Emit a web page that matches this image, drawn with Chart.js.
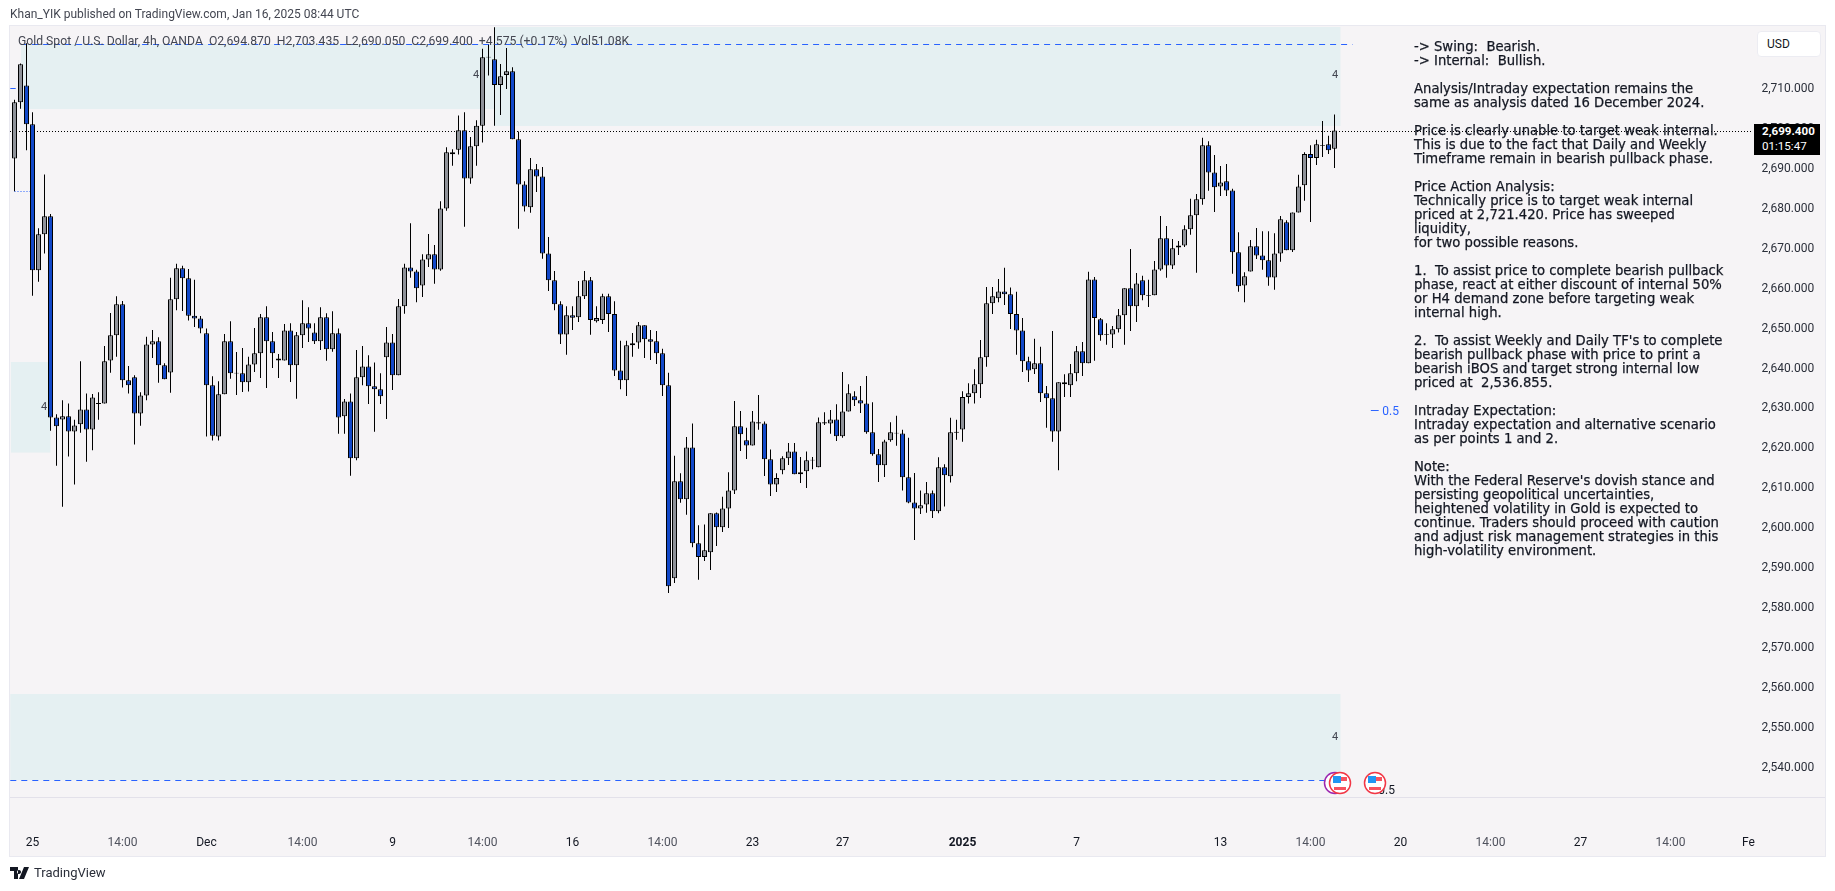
<!DOCTYPE html>
<html>
<head>
<meta charset="utf-8">
<title>Gold Spot 4h</title>
<script src="https://cdn.jsdelivr.net/npm/chart.js@4/dist/chart.umd.min.js"></script>
<style>
    html, body { margin: 0; padding: 0; background: #fff; overflow: hidden; }
    #page { position: relative; width: 1835px; height: 891px; overflow: hidden; font-family: Roboto, sans-serif; color: #131722; }
    #panel { position: absolute; left: 9px; top: 25px; width: 1815px; height: 830px; background: #f6f4f6; border: 1px solid #e9e9f0; }
    #axisLine { position: absolute; left: 10px; top: 797px; width: 1815px; height: 1px; background: #e3e1ea; }
    canvas { position: absolute; left: 0; top: 0; }
    .txt { position: absolute; white-space: pre; }
    #byline { left: 10px; top: 7px; font-size: 12px; color: #434651; }
    #legend { left: 18px; top: 34px; font-size: 12.2px; color: #434651; }
    #notes { left: 1414px; top: 40px; font-family: "DejaVu Sans", sans-serif; font-size: 13.2px; line-height: 14px; color: #131722; -webkit-text-stroke: 0.25px #131722; }
    #usd { position: absolute; left: 1757px; top: 31px; width: 62px; height: 24px; background: #fff; border: 1px solid #ececf2; border-radius: 4px; font-size: 12px; line-height: 24px; text-indent: 9px; }
    #lastBox { position: absolute; left: 1754px; top: 124px; width: 58px; height: 31px; padding-left: 8px; background: #000; color: #fff; font-size: 11.6px; line-height: 15px; }
    .small { font-size: 11px; color: #434651; }
    #footer { left: 34px; top: 865px; font-size: 13px; color: #2a2e39; }
</style>
</head>
<body>
<div id="page">
    <div id="panel"></div>
    <div id="axisLine"></div>
    <canvas id="chart" width="1835" height="891"></canvas>

    <div class="txt" id="byline">Khan_YIK published on TradingView.com, Jan 16, 2025 08:44 UTC</div>
    <div class="txt" id="legend">Gold Spot / U.S. Dollar, 4h, OANDA  O2,694.870  H2,703.435  L2,690.050  C2,699.400  +4.575 (+0.17%)  Vol51.08K</div>
    <div id="usd">USD</div>
    <div id="lastBox"><b>2,699.400</b><br>01:15:47</div>
    <div class="txt" id="notes">-&gt; Swing:  Bearish.
-&gt; Internal:  Bullish.

Analysis/Intraday expectation remains the
same as analysis dated 16 December 2024.

Price is clearly unable to target weak internal.
This is due to the fact that Daily and Weekly
Timeframe remain in bearish pullback phase.

Price Action Analysis:
Technically price is to target weak internal
priced at 2,721.420. Price has sweeped
liquidity,
for two possible reasons.

1.  To assist price to complete bearish pullback
phase, react at either discount of internal 50%
or H4 demand zone before targeting weak
internal high.

2.  To assist Weekly and Daily TF's to complete
bearish pullback phase with price to print a
bearish iBOS and target strong internal low
priced at  2,536.855.

Intraday Expectation:
Intraday expectation and alternative scenario
as per points 1 and 2.

Note:
With the Federal Reserve's dovish stance and
persisting geopolitical uncertainties,
heightened volatility in Gold is expected to
continue. Traders should proceed with caution
and adjust risk management strategies in this
high-volatility environment.</div>

    <div class="txt small" style="left:473px;top:68px">4</div>
    <div class="txt small" style="left:1332px;top:68px">4</div>
    <div class="txt small" style="left:41px;top:400px">4</div>
    <div class="txt small" style="left:1332px;top:730px">4</div>
    <div class="txt" style="left:1370px;top:404px;font-size:12px;color:#2962ff">— 0.5</div>
    <div class="txt" style="left:1366px;top:783px;font-size:12px;color:#131722">— 0.5</div>

    <svg style="position:absolute;left:1320px;top:768px" width="70" height="30" viewBox="0 0 70 30">
        <circle cx="15" cy="15" r="10.5" fill="#fff" stroke="#9c27b0" stroke-width="1.5"/>
        <g id="flagA">
            <circle cx="20" cy="15" r="10.5" fill="#fff" stroke="#f23645" stroke-width="1.5"/>
            <rect x="14" y="9" width="13" height="4" fill="#f7525f"/>
            <rect x="14" y="16" width="13" height="2" fill="#fff"/>
            <rect x="14" y="19" width="12" height="3" fill="#f7525f"/>
            <rect x="13" y="8" width="8" height="7" fill="#2196f3"/>
        </g>
        <circle cx="55" cy="15" r="10.5" fill="#fff" stroke="#f23645" stroke-width="1.5"/>
        <rect x="49" y="9" width="13" height="4" fill="#f7525f"/>
        <rect x="49" y="19" width="12" height="3" fill="#f7525f"/>
        <rect x="48" y="8" width="8" height="7" fill="#2196f3"/>
    </svg>

    <svg style="position:absolute;left:10px;top:867px" width="20" height="12" viewBox="0 0 20 12">
        <path d="M0 0h8v12H4V4H0z M9 3a2 2 0 1 0 0.01 0z M14 0h5l-5 12H9z" fill="#131722"/>
    </svg>
    <div class="txt" id="footer">TradingView</div>
</div>

<script>
// candle values, one per 4h bar
const opens = [
    2692.4,2706.5,2710.7,2701.0,2664.4,2673.4,2677.9,2627.5,2627.0,2627.8,
    2624.0,2625.8,2629.5,2624.5,2630.9,2631.0,2641.8,2648.1,2655.9,2636.8,
    2637.6,2628.5,2633.0,2645.8,2646.6,2640.6,2638.8,2657.1,2664.9,2662.4,
    2653.0,2652.3,2648.6,2635.6,2622.7,2633.3,2646.6,2638.5,2638.6,2636.3,
    2640.8,2643.6,2652.6,2646.6,2642.3,2641.8,2649.3,2640.6,2648.1,2651.1,
    2648.8,2646.6,2652.6,2644.6,2648.6,2627.8,2631.5,2617.3,2637.6,2640.3,
    2635.3,2634.6,2642.6,2646.3,2638.1,2655.4,2665.1,2664.1,2660.6,2667.1,
    2668.4,2664.6,2679.9,2693.95,2694.6,2699.5,2687.4,2695.5,2700.6,2717.7,
    2717.3,2710.8,2713.3,2714.3,2697.2,2685.9,2680.2,2689.7,2687.9,2668.6,
    2661.9,2655.9,2648.3,2653.1,2652.6,2657.9,2661.9,2651.6,2651.9,2657.9,
    2653.4,2639.3,2636.8,2645.6,2646.3,2650.6,2647.1,2646.6,2643.6,2635.6,
    2587.2,2611.5,2607.0,2620.0,2596.0,2592.5,2593.7,2603.5,2600.0,2604.7,
    2609.2,2625.3,2621.8,2620.5,2626.3,2626.0,2617.0,2610.7,2614.3,2617.3,
    2619.0,2613.3,2614.0,2616.7,2615.0,2626.3,2626.0,2627.0,2622.8,2629.0,
    2632.8,2631.8,2631.0,2623.8,2618.3,2615.5,2621.8,2623.7,2623.5,2612.5,
    2606.2,2604.7,2605.7,2608.5,2604.0,2615.0,2612.75,2623.7,2624.5,2632.6,
    2633.6,2635.8,2642.6,2656.1,2657.4,2659.1,2658.4,2653.4,2649.3,2641.6,
    2639.6,2641.1,2633.6,2632.3,2624.0,2636.3,2635.6,2638.6,2644.1,2641.1,
    2662.1,2652.1,2648.2,2648.3,2649.6,2653.1,2659.9,2655.4,2661.9,2658.0,
    2658.1,2664.6,2672.4,2665.6,2670.1,2670.6,2674.7,2678.2,2682.2,2695.7,
    2688.9,2685.4,2686.7,2684.4,2668.9,2660.6,2664.1,2670.4,2668.1,2666.9,
    2662.6,2668.6,2676.4,2669.4,2678.9,2685.7,2693.5,2692.5,2695.6,2696.0,
    2694.87
];
const highs = [
    2707.1,2716.2,2721.3,2704.0,2674.9,2688.4,2678.5,2628.3,2631.8,2631.0,
    2626.9,2641.6,2633.5,2633.4,2633.8,2645.4,2653.7,2657.9,2656.7,2640.4,
    2638.1,2633.8,2647.7,2649.4,2647.6,2641.1,2662.5,2666.0,2665.5,2664.7,
    2662.0,2652.9,2649.8,2637.8,2636.6,2648.4,2651.6,2643.9,2644.9,2642.7,
    2649.9,2653.4,2655.4,2648.9,2643.4,2650.9,2651.1,2648.9,2656.9,2655.1,
    2651.1,2655.1,2653.6,2654.1,2649.8,2632.1,2633.5,2644.4,2645.4,2643.1,
    2641.3,2638.6,2650.2,2648.4,2657.2,2666.0,2676.2,2664.5,2668.4,2673.5,
    2670.7,2681.7,2695.2,2694.7,2703.2,2704.0,2697.8,2702.0,2719.9,2720.9,
    2725.3,2716.1,2720.1,2715.3,2699.2,2686.7,2692.5,2691.0,2690.3,2672.7,
    2664.2,2656.6,2655.4,2655.4,2661.7,2664.2,2662.7,2655.4,2658.5,2658.5,
    2656.6,2646.7,2646.7,2648.7,2651.4,2650.6,2649.4,2649.2,2644.7,2638.7,
    2617.9,2613.5,2622.6,2626.0,2600.5,2600.7,2603.5,2603.7,2607.6,2613.8,
    2631.6,2629.1,2624.9,2629.1,2633.1,2626.5,2619.5,2613.5,2617.8,2621.1,
    2621.1,2617.6,2619.0,2617.6,2627.5,2628.8,2629.4,2630.8,2638.9,2635.8,
    2634.1,2635.4,2637.9,2631.3,2619.6,2621.9,2626.3,2627.9,2624.4,2622.4,
    2613.6,2609.2,2611.3,2609.2,2617.5,2615.8,2627.4,2626.9,2634.1,2636.1,
    2639.6,2646.9,2660.2,2660.2,2662.2,2665.0,2660.1,2659.0,2652.4,2642.7,
    2647.2,2645.2,2635.4,2649.2,2636.3,2638.3,2640.9,2645.4,2646.4,2664.0,
    2662.7,2652.4,2651.1,2650.4,2654.7,2659.9,2669.7,2663.7,2663.0,2662.0,
    2666.7,2678.0,2675.5,2672.2,2671.7,2675.7,2682.3,2683.5,2697.6,2696.7,
    2693.3,2690.5,2691.0,2684.8,2673.9,2663.9,2672.0,2675.0,2674.2,2674.2,
    2673.7,2678.0,2676.9,2678.9,2688.3,2694.0,2695.7,2697.1,2701.8,2698.1,
    2703.435
];
const lows = [
    2684.2,2704.9,2694.5,2658.0,2661.5,2668.6,2624.2,2615.4,2605.1,2617.7,
    2610.7,2623.7,2616.4,2619.3,2626.9,2631.0,2638.7,2642.7,2635.0,2633.5,
    2620.7,2625.4,2631.8,2642.4,2636.2,2637.1,2633.7,2654.4,2654.2,2651.8,
    2650.2,2648.6,2622.7,2621.7,2621.7,2633.3,2637.2,2633.1,2633.9,2634.0,
    2638.9,2637.4,2634.9,2639.9,2637.4,2641.8,2636.4,2632.2,2644.9,2646.4,
    2645.9,2644.4,2641.7,2644.0,2623.4,2623.4,2612.9,2616.8,2635.6,2630.9,
    2623.9,2630.9,2627.1,2634.4,2638.1,2653.5,2662.5,2656.4,2657.7,2665.2,
    2661.0,2664.3,2679.3,2690.6,2693.4,2675.3,2686.1,2690.6,2696.4,2713.2,
    2700.6,2703.3,2709.8,2697.2,2674.8,2679.1,2678.8,2684.0,2667.3,2659.2,
    2654.4,2645.9,2643.2,2649.4,2651.4,2657.2,2648.2,2651.3,2650.9,2648.9,
    2637.9,2634.6,2632.9,2642.7,2644.7,2642.4,2641.9,2640.9,2632.9,2583.5,
    2586.0,2606.1,2603.1,2595.0,2586.8,2591.5,2589.3,2595.3,2598.8,2599.8,
    2608.3,2619.1,2617.1,2620.5,2624.4,2612.8,2607.8,2608.8,2613.3,2615.6,
    2613.3,2611.1,2609.8,2614.5,2615.0,2625.6,2623.4,2621.6,2622.4,2629.0,
    2630.4,2628.6,2623.4,2617.9,2611.3,2612.6,2621.4,2620.4,2609.2,2606.0,
    2596.8,2603.3,2603.6,2602.3,2603.5,2605.2,2611.2,2621.9,2621.4,2631.0,
    2631.0,2632.4,2640.2,2653.4,2656.4,2655.7,2649.7,2643.2,2638.9,2636.4,
    2638.4,2631.4,2624.9,2621.4,2614.3,2632.6,2632.6,2636.6,2637.9,2641.1,
    2641.7,2646.7,2645.7,2644.9,2648.8,2645.7,2649.2,2651.4,2656.9,2655.2,
    2658.1,2664.3,2662.5,2664.7,2668.2,2670.2,2673.3,2663.8,2680.8,2684.3,
    2679.0,2683.0,2683.0,2663.5,2659.0,2656.4,2664.1,2667.2,2664.5,2660.5,
    2659.5,2666.5,2669.4,2669.0,2678.9,2681.8,2676.5,2690.8,2692.8,2693.5,
    2690.05
];
const closes = [
    2706.5,2716.0,2701.0,2664.4,2673.4,2677.9,2627.5,2625.3,2627.8,2624.0,
    2625.5,2629.5,2624.5,2632.5,2631.1,2641.6,2648.1,2655.9,2636.8,2635.6,
    2628.5,2633.0,2645.8,2646.6,2640.6,2637.1,2657.1,2664.9,2662.4,2653.0,
    2652.3,2649.8,2635.6,2622.9,2633.3,2646.6,2638.6,2638.7,2636.3,2640.8,
    2643.6,2652.6,2646.6,2643.6,2641.8,2649.3,2640.6,2648.1,2651.1,2649.8,
    2646.6,2652.6,2644.6,2648.6,2627.5,2631.5,2617.3,2637.6,2640.3,2635.3,
    2634.6,2632.8,2646.3,2638.1,2655.4,2665.1,2664.1,2659.9,2667.1,2668.4,
    2664.6,2679.9,2693.95,2693.45,2699.5,2687.4,2695.5,2700.6,2717.8,2717.9,
    2710.8,2713.0,2714.3,2697.2,2685.9,2680.4,2689.7,2687.9,2668.6,2661.9,
    2655.9,2648.3,2653.1,2652.5,2657.9,2661.9,2651.9,2652.4,2657.9,2653.4,
    2639.3,2636.8,2645.6,2646.1,2650.6,2647.1,2646.5,2643.6,2635.6,2585.2,
    2611.5,2607.0,2620.0,2596.0,2592.5,2594.2,2603.5,2600.0,2604.7,2609.2,
    2625.3,2623.3,2620.5,2626.5,2626.0,2617.0,2610.7,2612.3,2617.3,2619.0,
    2613.3,2613.8,2616.8,2616.9,2626.3,2626.0,2627.0,2622.8,2629.0,2633.6,
    2631.8,2631.0,2623.8,2618.3,2615.5,2621.5,2623.8,2623.5,2612.5,2606.2,
    2604.7,2605.5,2608.5,2604.0,2615.0,2613.0,2623.8,2623.9,2632.6,2633.6,
    2635.8,2642.6,2656.1,2657.9,2659.1,2658.4,2653.4,2649.3,2641.6,2639.3,
    2641.1,2633.6,2632.3,2624.0,2636.3,2635.8,2638.6,2644.1,2641.1,2662.1,
    2652.4,2648.1,2648.4,2649.6,2653.1,2659.9,2655.4,2661.1,2658.1,2658.2,
    2664.6,2672.4,2665.6,2669.9,2670.6,2674.7,2678.2,2682.2,2695.7,2688.9,
    2685.2,2686.4,2684.4,2668.9,2660.4,2662.9,2670.4,2668.1,2666.9,2662.6,
    2668.6,2677.2,2669.4,2678.9,2685.4,2693.5,2692.5,2696.0,2695.8,2694.5,
    2699.4
];

// axis ticks
const priceTicks = [2540,2550,2560,2570,2580,2590,2600,2610,2620,2630,2640,2650,2660,2670,2680,2690,2700,2710];
const timeTickBars = [3,18,32,48,63,78,93,108,123,138,158,177,201,216,231,246,261,276,289];
const timeTickLabels = ['25','14:00','Dec','14:00','9','14:00','16','14:00','23','27','2025','7','13','14:00','20','14:00','27','14:00','Fe'];

// shaded zones, bars and prices
const zoneStarts = [1.1, 80, -0.6, -0.7];
const zoneEnds = [80, 221, 6, 221];
const zoneTops = [2721.1, 2725.36, 2641.4, 2558.2];
const zoneBottoms = [2704.8, 2700.55, 2618.7, 2536.6];

// blue level lines
const levelPrices = [2721.1, 2536.6, 2710.07];
const levelStarts = [1.1, -0.7, -0.7];
const levelEnds = [223, 218.5, 0.2];
const dottedLevelPrices = [2684.2];
const dottedLevelStarts = [0];
const dottedLevelEnds = [2.6];
const lastPrice = 2699.4;

const slotCount = 290; // bars plus the empty space on the right
const slots = Array.from({ length: slotCount }, (_, i) => i);

const BLUE = '#1248c9';
const GREY = '#8f9299';

const zonesAndLines = {
    id: 'zonesAndLines',
    beforeDatasetsDraw(chart) {
        const { ctx, chartArea, scales: { x, y } } = chart;
        ctx.save();
        ctx.fillStyle = '#e5f0f2';
        zoneStarts.forEach((start, i) => {
            const left = x.getPixelForValue(start);
            const top = y.getPixelForValue(zoneTops[i]);
            ctx.fillRect(left, top, x.getPixelForValue(zoneEnds[i]) - left, y.getPixelForValue(zoneBottoms[i]) - top);
        });

        ctx.lineWidth = 1;
        ctx.strokeStyle = '#2962ff';
        ctx.setLineDash([6, 5]);
        levelPrices.forEach((price, i) => {
            const py = Math.round(y.getPixelForValue(price)) + 0.5;
            ctx.beginPath();
            ctx.moveTo(x.getPixelForValue(levelStarts[i]), py);
            ctx.lineTo(x.getPixelForValue(levelEnds[i]), py);
            ctx.stroke();
        });

        ctx.setLineDash([1, 2]);
        dottedLevelPrices.forEach((price, i) => {
            const py = Math.round(y.getPixelForValue(price)) + 0.5;
            ctx.beginPath();
            ctx.moveTo(x.getPixelForValue(dottedLevelStarts[i]), py);
            ctx.lineTo(x.getPixelForValue(dottedLevelEnds[i]), py);
            ctx.stroke();
        });

        // last price line
        const lastY = Math.round(y.getPixelForValue(lastPrice)) + 0.5;
        ctx.strokeStyle = '#000';
        ctx.beginPath();
        ctx.moveTo(10, lastY);
        ctx.lineTo(chartArea.right, lastY);
        ctx.stroke();
        ctx.restore();
    }
};

new Chart(document.getElementById('chart').getContext('2d'), {
    type: 'bar',
    data: {
        labels: slots,
        datasets: [
            {
                label: 'Wick',
                data: lows.map((low, i) => [low, highs[i]]),
                backgroundColor: '#000',
                barThickness: 1,
                grouped: false,
                order: 2,
                inflateAmount: 0
            },
            {
                label: 'Body',
                data: opens.map((open, i) => [open, closes[i]]),
                backgroundColor: opens.map((open, i) => closes[i] >= open ? GREY : BLUE),
                borderColor: '#000',
                borderWidth: 1,
                borderSkipped: false,
                barThickness: 5,
                grouped: false,
                order: 1,
                inflateAmount: 0
            }
        ]
    },
    plugins: [zonesAndLines],
    options: {
        responsive: false,
        animation: false,
        layout: { padding: { left: 11.5, top: 27, right: 0, bottom: 0 } },
        plugins: { legend: { display: false }, tooltip: { enabled: false } },
        scales: {
            x: {
                offset: true,
                grid: { display: false, drawTicks: false },
                border: { display: false },
                afterBuildTicks: axis => { axis.ticks = timeTickBars.map(v => ({ value: v })); },
                afterFit: axis => { axis.height = 94; axis.paddingLeft = 0; axis.paddingRight = 0; },
                ticks: {
                    autoSkip: false,
                    maxRotation: 0,
                    minRotation: 0,
                    padding: 39,
                    color: ctx => timeTickLabels[ctx.index] === '14:00' ? '#50535e' : '#131722',
                    font: ctx => ({
                        family: 'Roboto',
                        size: 12,
                        weight: timeTickLabels[ctx.index] === '2025' ? 'bold' : 'normal'
                    }),
                    callback: (value, index) => timeTickLabels[index]
                }
            },
            y: {
                position: 'right',
                min: 2532.38,
                max: 2725.36,
                grid: { display: false, drawTicks: false },
                border: { display: false },
                afterBuildTicks: axis => { axis.ticks = priceTicks.map(v => ({ value: v })); },
                afterFit: axis => { axis.width = 83.5; axis.paddingTop = 0; axis.paddingBottom = 0; },
                ticks: {
                    padding: 10,
                    labelOffset: 1,
                    color: '#2a2e39',
                    font: { family: 'Roboto', size: 12 },
                    callback: value => value.toLocaleString('en-US', { minimumFractionDigits: 3 })
                }
            }
        }
    }
});
</script>
</body>
</html>
